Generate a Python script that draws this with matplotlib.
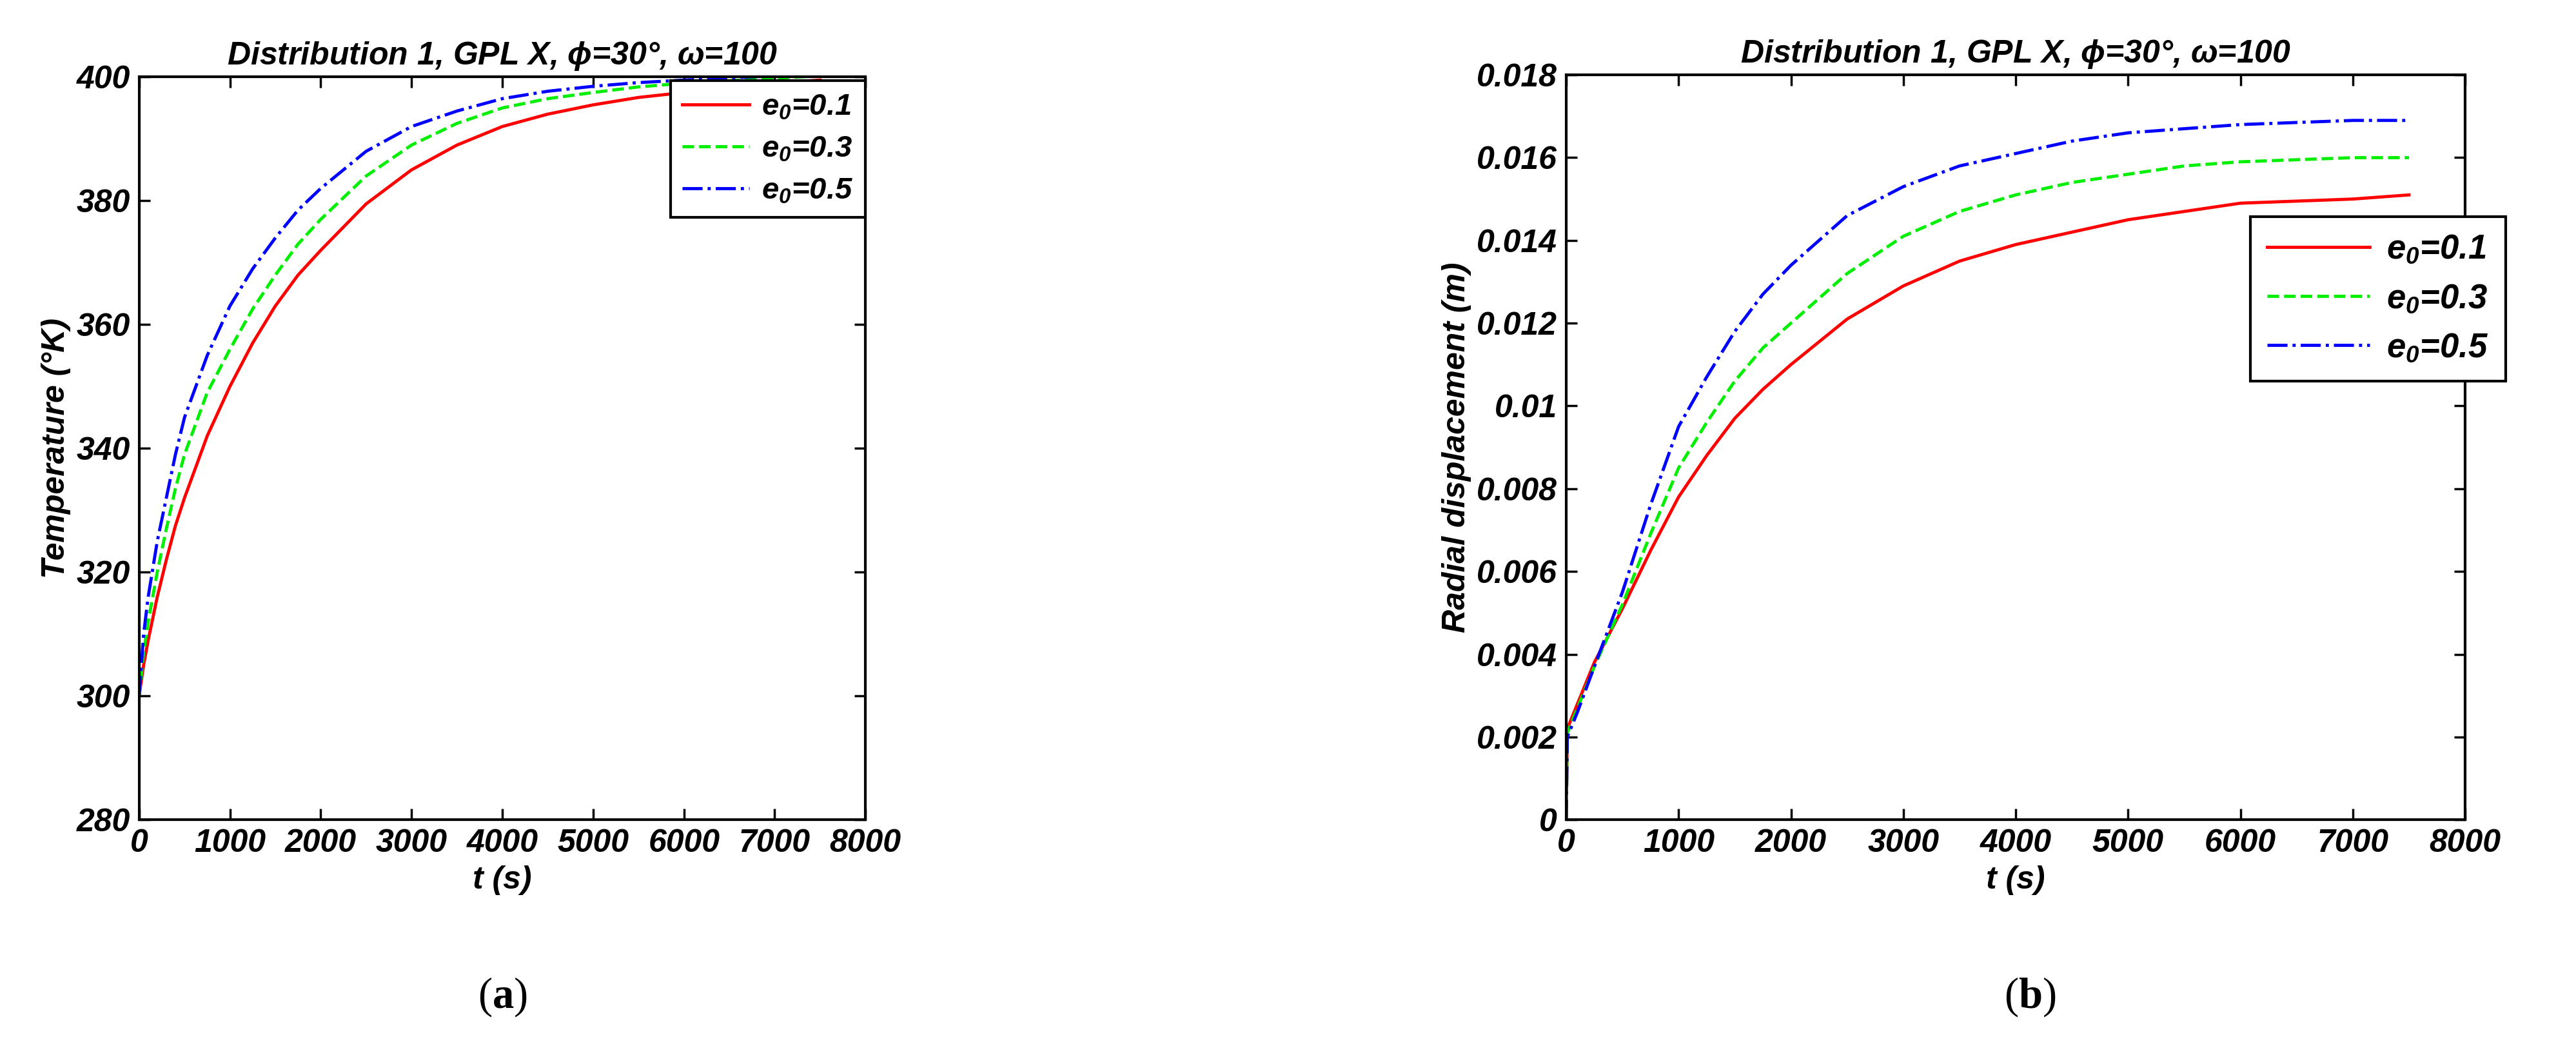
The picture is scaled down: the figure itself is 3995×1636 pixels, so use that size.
import matplotlib
matplotlib.use("Agg")
import matplotlib.pyplot as plt

plt.rcParams['font.family'] = ['Liberation Sans', 'DejaVu Sans']
plt.rcParams['mathtext.fontset'] = 'custom'
plt.rcParams['mathtext.it'] = 'Liberation Sans:bold:italic'
plt.rcParams['mathtext.rm'] = 'Liberation Sans:bold:italic'
plt.rcParams['mathtext.bf'] = 'Liberation Serif:bold'

t_a = [0, 50, 100, 200, 300, 400, 500, 750, 1000, 1250, 1500, 1750, 2000, 2500, 3000, 3500, 4000, 4500, 5000, 5500, 6000, 7000, 7500]
temp_01 = [300, 305, 309, 316, 322, 327.5, 332, 342, 350, 357, 363, 368, 372, 379.5, 385, 389, 392, 394, 395.5, 396.7, 397.5, 399, 399.5]
temp_03 = [300, 307, 312, 320, 327, 333.5, 339, 349, 356, 362.5, 368, 373, 377, 384, 389, 392.5, 395, 396.5, 397.5, 398.4, 399, 399.8, 400.2]
temp_05 = [300, 310, 316, 325, 332, 339, 345, 355, 363, 369, 374, 378.5, 382, 388, 392, 394.5, 396.5, 397.7, 398.5, 399.1, 399.5, 400.2, 400.5]

t_b = [0, 10, 100, 250, 500, 750, 1000, 1250, 1500, 1750, 2000, 2500, 3000, 3500, 4000, 4500, 5000, 5500, 6000, 7000, 7500]
disp_01 = [0, 0.0022, 0.0028, 0.0038, 0.0051, 0.0065, 0.0078, 0.0088, 0.0097, 0.0104, 0.0110, 0.0121, 0.0129, 0.0135, 0.0139, 0.0142, 0.0145, 0.0147, 0.0149, 0.0150, 0.0151]
disp_03 = [0, 0.0021, 0.0027, 0.0037, 0.0052, 0.0069, 0.0085, 0.0096, 0.0106, 0.0114, 0.0120, 0.0132, 0.0141, 0.0147, 0.0151, 0.0154, 0.0156, 0.0158, 0.0159, 0.0160, 0.0160]
disp_05 = [0, 0.0020, 0.0026, 0.0037, 0.0055, 0.0076, 0.0095, 0.0107, 0.0118, 0.0127, 0.0134, 0.0146, 0.0153, 0.0158, 0.0161, 0.0164, 0.0166, 0.0167, 0.0168, 0.0169, 0.0169]

labels = [r'e$_{0}$=0.1', r'e$_{0}$=0.3', r'e$_{0}$=0.5']
colors = ['#ff0000', '#00ee00', '#0000ff']
styles = ['-', '--', '-.']
title = r'Distribution 1, GPL X, $\phi$=30°, $\omega$=100'

fig = plt.figure(figsize=(39.95, 16.36), dpi=100)
axa = fig.add_axes([0.054, 0.223, 0.282, 0.704])
axb = fig.add_axes([0.608, 0.223, 0.349, 0.706])

fkw = dict(fontsize=36, fontweight='bold', fontstyle='italic')
for ax, t, ys in [(axa, t_a, [temp_01, temp_03, temp_05]), (axb, t_b, [disp_01, disp_03, disp_05])]:
    for y, c, s, l in zip(ys, colors, styles, labels):
        ax.plot(t, y, color=c, linestyle=s, linewidth=3.5, label=l)
    ax.set_xlim(0, 8000)
    ax.set_xticks(range(0, 8001, 1000))
    ax.tick_params(direction='in', top=True, right=True, length=12, width=2.5, pad=10)
    for sp in ax.spines.values():
        sp.set_linewidth(3)
    ax.set_title(title, pad=14, **fkw)
    ax.set_xlabel('t (s)', labelpad=8, **fkw)

axa.set_ylim(280, 400)
axa.set_yticks(range(280, 401, 20))
axa.set_ylabel('Temperature (°K)', labelpad=6, **fkw)
axb.set_ylim(0, 0.018)
axb.set_yticks([0, 0.002, 0.004, 0.006, 0.008, 0.01, 0.012, 0.014, 0.016, 0.018])
axb.set_yticklabels(['0', '0.002', '0.004', '0.006', '0.008', '0.01', '0.012', '0.014', '0.016', '0.018'])
axb.set_ylabel('Radial displacement (m)', labelpad=6, **fkw)
for ax in (axa, axb):
    for lab in ax.get_xticklabels() + ax.get_yticklabels():
        lab.set_fontsize(36); lab.set_fontweight('bold'); lab.set_fontstyle('italic')

la = axa.legend(loc='upper right', bbox_to_anchor=(1.0, 0.995), borderaxespad=0,
                prop={'size': 34, 'weight': 'bold', 'style': 'italic'}, fancybox=False, framealpha=1,
                edgecolor='black', handlelength=2.2, handletextpad=0.4, borderpad=0.4, labelspacing=0.45)
lb = axb.legend(loc='upper right', bbox_to_anchor=(1.045, 0.81), borderaxespad=0,
                prop={'size': 38, 'weight': 'bold', 'style': 'italic'}, fancybox=False, framealpha=1,
                edgecolor='black', handlelength=3.0, handletextpad=0.5, borderpad=0.5, labelspacing=0.5)
for lg in (la, lb):
    lg.get_frame().set_linewidth(3)

fig.text(0.195, 0.055, r'($\mathbf{a}$)', ha='center', va='center', fontsize=48, family='Liberation Serif')
fig.text(0.788, 0.055, r'($\mathbf{b}$)', ha='center', va='center', fontsize=48, family='Liberation Serif')

fig.savefig('out.png', dpi=100)
